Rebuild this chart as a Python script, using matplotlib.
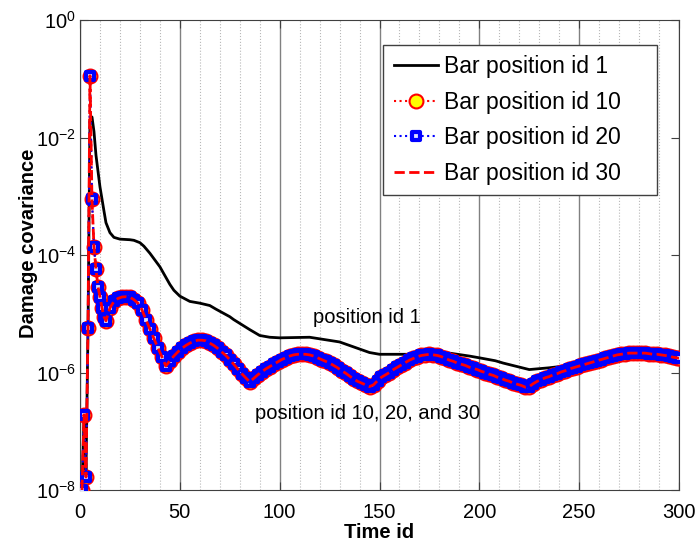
import numpy as np
import matplotlib
matplotlib.use("Agg")
import matplotlib.pyplot as plt
from matplotlib.markers import MarkerStyle

plt.rcParams['font.family'] = ['Liberation Sans', 'DejaVu Sans']
plt.rcParams['mathtext.fontset'] = 'custom'
plt.rcParams['mathtext.rm'] = 'Liberation Sans'
plt.rcParams['mathtext.it'] = 'Liberation Sans:italic'
plt.rcParams['mathtext.bf'] = 'Liberation Sans:bold'

series_names = ['Bar position id 1', 'Bar position id 10', 'Bar position id 20', 'Bar position id 30']

# Bar position id 1 : time ids and -log10(damage covariance)
pos1_time = [1, 2, 3, 4, 5, 6, 7, 8, 10, 12, 13, 15, 17, 20, 25, 27, 30, 32, 35, 40,
             45, 47, 50, 55, 60, 65, 68, 75, 77, 85, 90, 95, 100, 115, 130, 140, 145,
             150, 165, 175, 185, 195, 200, 208, 212, 225, 235, 245, 255, 265, 280, 300]
pos1_exp = [8.0, 6.8, 7.7, 5.3, 1.7, 1.65, 1.9, 2.3, 2.84, 3.25, 3.45, 3.62, 3.70, 3.73,
            3.74, 3.75, 3.79, 3.85, 3.97, 4.2, 4.5, 4.6, 4.7, 4.79, 4.82, 4.86, 4.92,
            5.05, 5.1, 5.27, 5.37, 5.40, 5.41, 5.40, 5.48, 5.6, 5.66, 5.69, 5.69, 5.66,
            5.67, 5.72, 5.75, 5.80, 5.84, 5.95, 5.92, 5.88, 5.84, 5.80, 5.77, 5.77]

# Bar position id 10 / 20 / 30 (identical curves)
pos10_time = list(range(1, 13)) + list(range(13, 300, 2)) + [300]
pos10_exp = [
    8.0, 6.72, 7.78, 5.24, 0.95, 3.05, 3.86, 4.24, 4.54, 4.71, 4.90, 5.05,
    5.12, 4.90, 4.79, 4.74, 4.715, 4.71, 4.72, 4.76, 4.82, 4.93, 5.10, 5.26,
    5.42, 5.58, 5.73, 5.89,
    5.80, 5.72, 5.65, 5.59, 5.54, 5.50, 5.47, 5.45, 5.45, 5.46, 5.50, 5.54,
    5.59, 5.65, 5.71, 5.78, 5.86, 5.94, 6.02, 6.09, 6.16,
    6.10, 6.04, 5.99, 5.94, 5.90, 5.86, 5.82, 5.78, 5.75, 5.72, 5.70, 5.69,
    5.69, 5.69, 5.70, 5.72, 5.75, 5.78, 5.81, 5.84, 5.88, 5.92, 5.97, 6.01,
    6.06, 6.11, 6.15, 6.18, 6.21, 6.24,
    6.21, 6.14, 6.08, 6.04, 6.00, 5.95, 5.91, 5.87, 5.83, 5.79, 5.76, 5.73,
    5.71, 5.70, 5.69, 5.70, 5.71, 5.73, 5.76, 5.79, 5.81, 5.84, 5.86, 5.88,
    5.91, 5.93, 5.95, 5.98, 6.00, 6.03, 6.05, 6.08, 6.10, 6.13, 6.15, 6.18,
    6.20, 6.22, 6.25, 6.24,
    6.19, 6.15, 6.12, 6.09, 6.07, 6.04, 6.02, 5.99, 5.97, 5.94, 5.92, 5.90,
    5.88, 5.86, 5.84, 5.82, 5.80, 5.78, 5.76, 5.74, 5.72, 5.70, 5.69, 5.68,
    5.67, 5.67, 5.67, 5.67, 5.67, 5.68, 5.69, 5.69, 5.70, 5.71, 5.72, 5.74,
    5.75, 5.76]

pos1_vals = 10.0 ** (-np.array(pos1_exp))
pos10_vals = 10.0 ** (-np.array(pos10_exp))

fig = plt.figure(figsize=(6.97, 5.5), dpi=100)
ax = fig.add_axes([80 / 697, 60 / 550, 599 / 697, 470 / 550])

h1, = ax.semilogy(pos1_time, pos1_vals, color='black', lw=2, zorder=3)
h2, = ax.semilogy(pos10_time, pos10_vals, color='red', ls=':', lw=1.5, marker='o', ms=10,
                  mec='red', mfc='yellow', mew=1.5, zorder=4)
h3, = ax.semilogy(pos10_time, pos10_vals, color='blue', ls=':', lw=1.5,
                  marker=MarkerStyle('s', joinstyle='round'), ms=6,
                  mec='blue', mfc='#dcdcff', mew=3, zorder=5)
h4, = ax.semilogy(pos10_time, pos10_vals, color='red', ls='--', lw=2, zorder=6)

ax.set_xlim(0, 300)
ax.set_ylim(1e-8, 1e0)
ax.set_xticks(range(0, 301, 50))
ax.set_xticks(range(0, 301, 10), minor=True)
yt = [1e0, 1e-2, 1e-4, 1e-6, 1e-8]
ax.set_yticks(yt)
ax.set_yticklabels([r'$\mathregular{10^{%d}}$' % int(np.log10(v)) for v in yt])
ax.yaxis.set_minor_locator(matplotlib.ticker.NullLocator())

ax.grid(True, which='major', axis='x', color='#808080', lw=1, ls='-')
ax.grid(True, which='minor', axis='x', color='#b8b8b8', lw=0.8, ls=':')
ax.set_axisbelow(True)

ax.tick_params(which='major', direction='in', length=6, top=True, right=True,
               labelsize=14.5, color='#404040')
ax.tick_params(axis='x', pad=9)
ax.tick_params(axis='y', pad=3)
ax.tick_params(which='minor', length=0)
for sp in ax.spines.values():
    sp.set_color('#404040')

fig.text(379.5 / 697, 1 - 532 / 550, 'Time id', fontsize=14.5, fontweight='bold',
         ha='center', va='center')
fig.text(29 / 697, 1 - 243 / 550, 'Damage covariance', fontsize=14.5, fontweight='bold',
         ha='center', va='center', rotation=90)

ax.text(143.5, 10 ** -5.07, 'position id 1', fontsize=14.5, ha='center', va='center')
ax.text(144, 10 ** -6.69, 'position id 10, 20, and 30', fontsize=14.5, ha='center', va='center')

# MATLAB-style legend leaves extra room on the right of the text
leg = ax.legend([h1, h2, h3, h4], [n + '    ' for n in series_names],
                loc='upper right', bbox_to_anchor=(0.963, 0.947), fontsize=16.5,
                handlelength=1.95, handletextpad=0.25, borderpad=0.45, borderaxespad=0,
                labelspacing=0.55, fancybox=False, framealpha=1, edgecolor='#404040')
leg.get_frame().set_linewidth(1)

fig.savefig('out.png', dpi=100)
